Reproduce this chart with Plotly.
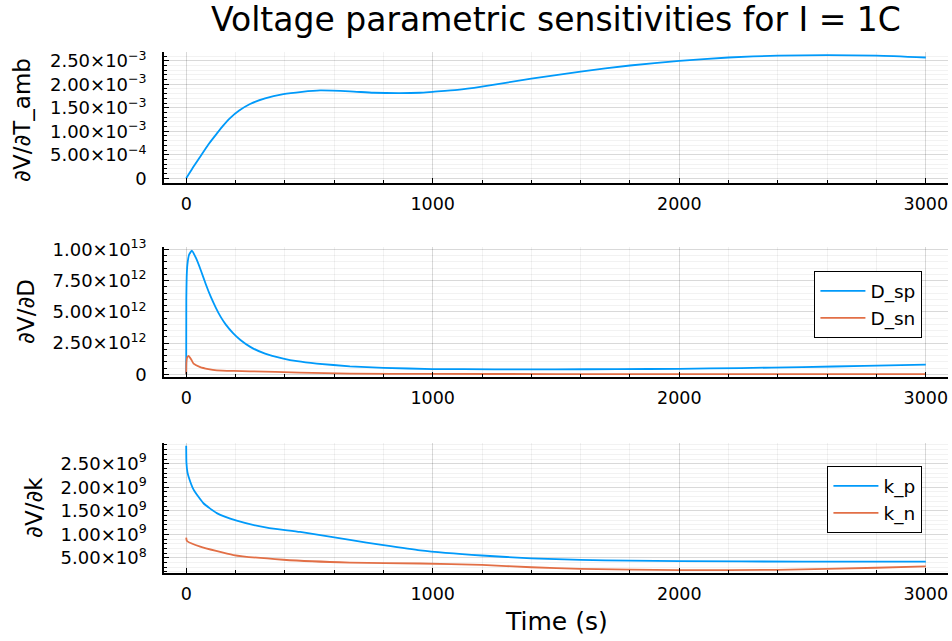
import plotly.graph_objects as go

# ---------------- data ----------------
t_T = [0, 25, 57, 90, 124, 150, 178, 215, 259, 320, 394, 470, 543, 664, 760, 866, 949,
       1000, 1100, 1199, 1400, 1600, 1800, 2000, 2200, 2400, 2600, 2800, 3000]
dV_dTamb = [0, 0.21e-3, 0.46e-3, 0.72e-3, 0.95e-3, 1.12e-3, 1.28e-3, 1.44e-3, 1.58e-3,
            1.70e-3, 1.79e-3, 1.84e-3, 1.87e-3, 1.85e-3, 1.82e-3, 1.81e-3, 1.82e-3,
            1.84e-3, 1.88e-3, 1.95e-3, 2.12e-3, 2.27e-3, 2.40e-3, 2.50e-3, 2.57e-3,
            2.61e-3, 2.62e-3, 2.61e-3, 2.57e-3]

t_Dsp = [0, 0.5, 2, 5, 12, 23, 40, 60, 80, 100, 120, 140, 160, 190, 220, 260, 320,
         394, 450, 529, 664, 800, 1000, 1250, 1500, 1750, 2000, 2250, 2500, 2750, 3000]
D_sp = [0, 6.0e12, 7.8e12, 8.8e12, 9.6e12, 9.9e12, 9.3e12, 8.3e12, 7.2e12, 6.2e12,
        5.35e12, 4.6e12, 4.0e12, 3.3e12, 2.75e12, 2.2e12, 1.65e12, 1.26e12, 1.05e12,
        0.86e12, 0.64e12, 0.52e12, 0.42e12, 0.40e12, 0.40e12, 0.41e12, 0.44e12,
        0.50e12, 0.58e12, 0.67e12, 0.78e12]

t_Dsn = [0, 1, 4, 10, 20, 30, 57, 90, 124, 192, 259, 460, 664, 1000, 1500, 2000,
         2500, 3000]
D_sn = [0, 1.0e12, 1.35e12, 1.47e12, 1.2e12, 0.86e12, 0.58e12, 0.42e12, 0.32e12,
        0.27e12, 0.24e12, 0.14e12, 0.06e12, 0.03e12, 0.02e12, 0.01e12, 0.01e12, 0.01e12]

t_kp = [0, 1, 5, 9.5, 30, 70, 124, 205, 327, 462, 664, 800, 949, 1199, 1400, 1600,
        1800, 2000, 2500, 3000]
k_p = [2.88e9, 2.52e9, 2.32e9, 2.23e9, 1.95e9, 1.66e9, 1.45e9, 1.29e9, 1.14e9, 1.05e9,
       0.88e9, 0.77e9, 0.66e9, 0.55e9, 0.49e9, 0.455e9, 0.44e9, 0.43e9, 0.42e9, 0.42e9]

t_kn = [0, 2, 5, 57, 192, 394, 664, 949, 1199, 1400, 1600, 2000, 2400, 2800, 3000]
k_n = [0.93e9, 0.87e9, 0.85e9, 0.74e9, 0.56e9, 0.46e9, 0.40e9, 0.38e9, 0.35e9,
       0.30e9, 0.265e9, 0.24e9, 0.245e9, 0.29e9, 0.32e9]

x_ticks = [0, 1000, 2000, 3000]
y1_ticks = [0, 5e-4, 1e-3, 1.5e-3, 2e-3, 2.5e-3]
y1_text = ["0", "5.00×10<sup>−4</sup>", "1.00×10<sup>−3</sup>", "1.50×10<sup>−3</sup>",
           "2.00×10<sup>−3</sup>", "2.50×10<sup>−3</sup>"]
y2_ticks = [0, 2.5e12, 5e12, 7.5e12, 1e13]
y2_text = ["0", "2.50×10<sup>12</sup>", "5.00×10<sup>12</sup>", "7.50×10<sup>12</sup>",
           "1.00×10<sup>13</sup>"]
y3_ticks = [5e8, 1e9, 1.5e9, 2e9, 2.5e9]
y3_text = ["5.00×10<sup>8</sup>", "1.00×10<sup>9</sup>", "1.50×10<sup>9</sup>",
           "2.00×10<sup>9</sup>", "2.50×10<sup>9</sup>"]

BLUE = "#009AFA"
ORANGE = "#E26F46"
FONT = "DejaVu Sans"
LW = 1.8

fig = go.Figure()
fig.add_trace(go.Scatter(x=t_T, y=dV_dTamb, mode="lines",
                         line=dict(color=BLUE, width=LW, shape="spline", smoothing=0.6),
                         showlegend=False, xaxis="x", yaxis="y"))
fig.add_trace(go.Scatter(x=t_Dsp, y=D_sp, mode="lines", name="D_sp",
                         line=dict(color=BLUE, width=LW, shape="spline", smoothing=0.4),
                         xaxis="x2", yaxis="y2", legend="legend"))
fig.add_trace(go.Scatter(x=t_Dsn, y=D_sn, mode="lines", name="D_sn",
                         line=dict(color=ORANGE, width=LW, shape="spline", smoothing=0.5),
                         xaxis="x2", yaxis="y2", legend="legend"))
fig.add_trace(go.Scatter(x=t_kp, y=k_p, mode="lines", name="k_p",
                         line=dict(color=BLUE, width=LW, shape="spline", smoothing=0.5),
                         xaxis="x3", yaxis="y3", legend="legend2"))
fig.add_trace(go.Scatter(x=t_kn, y=k_n, mode="lines", name="k_n",
                         line=dict(color=ORANGE, width=LW, shape="spline", smoothing=0.5),
                         xaxis="x3", yaxis="y3", legend="legend2"))

GRID = "rgba(0,0,0,0.10)"
MGRID = "rgba(0,0,0,0.05)"


def xax(anchor):
    return dict(domain=[0, 1], anchor=anchor, range=[-90, 3090], tickmode="array",
                tickvals=x_ticks, ticks="inside", ticklen=5, tickwidth=1.3,
                tickcolor="black", showline=True, linecolor="black", linewidth=1.5,
                mirror=False, showgrid=True, gridcolor=GRID, gridwidth=1, zeroline=False,
                tickfont=dict(size=17.5, color="black", family=FONT),
                ticklabelstandoff=4,
                minor=dict(dtick=200, tick0=0, ticks="inside", ticklen=3,
                           tickcolor="black", showgrid=True, gridcolor=MGRID))


def yax(anchor, dom, rng, vals, text, mdt, tick0):
    return dict(domain=dom, anchor=anchor, range=rng, tickmode="array", tickvals=vals,
                ticktext=text, ticks="inside", ticklen=5, tickwidth=1.3,
                tickcolor="black", showline=True, linecolor="black", linewidth=1.5,
                mirror=False, showgrid=True, gridcolor=GRID, zeroline=False,
                tickfont=dict(size=18, color="black", family=FONT),
                ticklabelstandoff=12,
                minor=dict(dtick=mdt, tick0=tick0, ticks="inside", ticklen=3,
                           tickcolor="black", showgrid=True, gridcolor=MGRID))


fig.update_layout(
    width=952, height=641,
    margin=dict(l=164, r=4, t=52, b=68),
    paper_bgcolor="white", plot_bgcolor="white",
    font=dict(family=FONT, color="black"),
    title=dict(text="Voltage parametric sensitivities for I = 1C", x=0.584,
               xanchor="center", y=1 - 19 / 641, yanchor="middle",
               font=dict(size=33, family=FONT, color="black")),
    xaxis=xax("y"),
    xaxis2=xax("y2"),
    xaxis3=xax("y3"),
    yaxis=yax("x", [0.7486, 1.0], [-0.1e-3, 2.687e-3], y1_ticks, y1_text, 1e-4, 0),
    yaxis2=yax("x2", [0.3762, 0.6257], [-0.216e12, 10.2e12], y2_ticks, y2_text, 5e11, 0),
    yaxis3=yax("x3", [0.0, 0.2495], [0.178e9, 2.94e9], y3_ticks, y3_text, 1e8, 0),
    legend=dict(x=0.967, y=0.5797, xanchor="right", yanchor="top", bgcolor="white",
                bordercolor="black", borderwidth=1.3, itemwidth=45,
                font=dict(size=18.5, family=FONT, color="black")),
    legend2=dict(x=0.967, y=0.2054, xanchor="right", yanchor="top", bgcolor="white",
                 bordercolor="black", borderwidth=1.3, itemwidth=45,
                 font=dict(size=18.5, family=FONT, color="black")),
    annotations=[
        dict(text="∂V/∂T_amb", xref="paper", yref="paper", x=(22 - 164) / 784,
             y=0.8695, xanchor="center", yanchor="middle", textangle=-90,
             showarrow=False, font=dict(size=23, family=FONT, color="black")),
        dict(text="∂V/∂D", xref="paper", yref="paper", x=(26 - 164) / 784,
             y=0.501, xanchor="center", yanchor="middle", textangle=-90,
             showarrow=False, font=dict(size=23, family=FONT, color="black")),
        dict(text="∂V/∂k", xref="paper", yref="paper", x=(34 - 164) / 784,
             y=0.1248, xanchor="center", yanchor="middle", textangle=-90,
             showarrow=False, font=dict(size=23, family=FONT, color="black")),
        dict(text="Time (s)", xref="paper", yref="paper", x=(556 - 164) / 784,
             y=(573 - 621) / 521, xanchor="center", yanchor="middle",
             showarrow=False, font=dict(size=25, family=FONT, color="black")),
    ],
)

fig.write_html("out.html")
